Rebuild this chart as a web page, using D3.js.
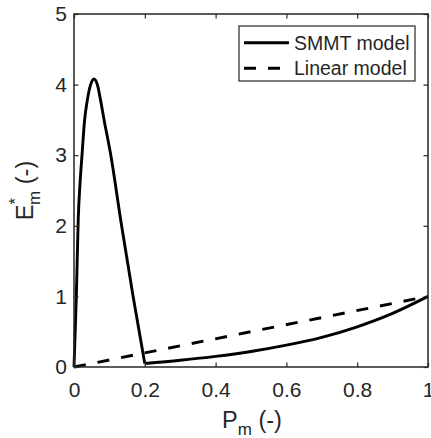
<!DOCTYPE html>
<html>
<head>
<meta charset="utf-8">
<script src="https://cdn.jsdelivr.net/npm/d3@7"></script>
<style>
  html, body { margin: 0; padding: 0; background: #fff; }
  svg { display: block; }
  text { font-family: "Liberation Sans", Arial, Helvetica, sans-serif; fill: #262626; }
</style>
</head>
<body>
<svg id="chart" width="431" height="438"></svg>
<script>
// ---- data ----
const xTicks = [0, 0.2, 0.4, 0.6, 0.8, 1];
const xTickLabels = ["0", "0.2", "0.4", "0.6", "0.8", "1"];
const yTicks = [0, 1, 2, 3, 4, 5];
const yTickLabels = ["0", "1", "2", "3", "4", "5"];

// SMMT model, first branch (0 <= Pm <= 0.2)
const pmLeft   = [0, 0.003, 0.0066, 0.012, 0.017, 0.0226, 0.030, 0.0376, 0.047, 0.0565, 0.066, 0.075, 0.085, 0.104, 0.132, 0.167, 0.2];
const smmtLeft = [0, 0.45, 1.0, 2.1, 2.6, 3.0, 3.5, 3.78, 4.0, 4.08, 4.0, 3.78, 3.5, 3.0, 2.08, 1.0, 0.05];
// SMMT model, second branch (0.2 <= Pm <= 1)
const pmRight   = [0.2, 0.3, 0.4, 0.5, 0.6, 0.7, 0.8, 0.9, 1.0];
const smmtRight = [0.05, 0.095, 0.15, 0.22, 0.31, 0.42, 0.57, 0.76, 1.0];
// Linear model
const pmLinear  = [0, 1];
const linValues = [0, 1];

const legendLabels = ["SMMT model", "Linear model"];

// ---- layout ----
const svg = d3.select("#chart");
const mLeft = 74, mRight = 428, mTop = 14, mBottom = 367;
const x = d3.scaleLinear().domain([0, 1]).range([mLeft, mRight]);
const y = d3.scaleLinear().domain([0, 5]).range([mBottom, mTop]);
const axisColor = "#262626";
const tickLen = 4.5;

// data lines
const line = d3.line().x(d => x(d[0])).y(d => y(d[1]));
const lineSmooth = d3.line().x(d => x(d[0])).y(d => y(d[1])).curve(d3.curveMonotoneX);

svg.append("path")
  .datum(pmLinear.map((p, i) => [p, linValues[i]]))
  .attr("d", line)
  .attr("fill", "none").attr("stroke", "#000").attr("stroke-width", 2.9)
  .attr("stroke-dasharray", "12,12");

svg.append("path")
  .datum(pmLeft.map((p, i) => [p, smmtLeft[i]]))
  .attr("d", lineSmooth)
  .attr("fill", "none").attr("stroke", "#000").attr("stroke-width", 2.9)
  .attr("stroke-linejoin", "round");

svg.append("path")
  .datum(pmRight.map((p, i) => [p, smmtRight[i]]))
  .attr("d", lineSmooth)
  .attr("fill", "none").attr("stroke", "#000").attr("stroke-width", 2.9)
  .attr("stroke-linejoin", "round");

// axes (box with inward ticks)
const xBottom = svg.append("g").attr("transform", `translate(0,${mBottom})`)
  .call(d3.axisBottom(x).tickValues(xTicks).tickFormat((d, i) => xTickLabels[i]).tickSizeInner(-tickLen).tickSizeOuter(0).tickPadding(15));
const xTop = svg.append("g").attr("transform", `translate(0,${mTop})`)
  .call(d3.axisTop(x).tickValues(xTicks).tickFormat("").tickSizeInner(-tickLen).tickSizeOuter(0));
const yLeft = svg.append("g").attr("transform", `translate(${mLeft},0)`)
  .call(d3.axisLeft(y).tickValues(yTicks).tickFormat((d, i) => yTickLabels[i]).tickSizeInner(-tickLen).tickSizeOuter(0).tickPadding(7));
const yRight = svg.append("g").attr("transform", `translate(${mRight},0)`)
  .call(d3.axisRight(y).tickValues(yTicks).tickFormat("").tickSizeInner(-tickLen).tickSizeOuter(0));

[xBottom, xTop, yLeft, yRight].forEach(g => {
  g.select(".domain").remove();
  g.selectAll(".tick line").attr("stroke", axisColor).attr("stroke-width", 1.2);
  g.selectAll(".tick text").attr("font-size", 21).attr("fill", axisColor)
    .style("font-family", '"Liberation Sans", Arial, sans-serif');
});

svg.append("rect")
  .attr("x", mLeft).attr("y", mTop).attr("width", mRight - mLeft).attr("height", mBottom - mTop)
  .attr("fill", "none").attr("stroke", axisColor).attr("stroke-width", 1.5);

// axis labels
const xl = svg.append("text").attr("x", (mLeft + mRight) / 2 + 1).attr("y", 428)
  .attr("text-anchor", "middle").attr("font-size", 23.5);
xl.append("tspan").text("P");
xl.append("tspan").attr("font-size", 17).attr("dy", 7).text("m");
xl.append("tspan").attr("dy", -7).text(" (-)");

const yl = svg.append("text")
  .attr("transform", `translate(33,${(mTop + mBottom) / 2}) rotate(-90)`)
  .attr("text-anchor", "middle").attr("font-size", 23.5);
yl.append("tspan").text("E");
yl.append("tspan").attr("font-size", 17).attr("dy", -12).text("*");
yl.append("tspan").attr("font-size", 17).attr("dx", -7).attr("dy", 19).text("m");
yl.append("tspan").attr("dy", -7).text(" (-)");

// legend
const lg = svg.append("g");
lg.append("rect").attr("x", 239).attr("y", 26).attr("width", 176).attr("height", 55)
  .attr("fill", "#fff").attr("stroke", axisColor).attr("stroke-width", 1.2);
const rowsY = [42.7, 68.3];
const dashes = [null, "12,12"];
legendLabels.forEach((lab, i) => {
  lg.append("line").attr("x1", 244).attr("x2", 289).attr("y1", rowsY[i]).attr("y2", rowsY[i])
    .attr("stroke", "#000").attr("stroke-width", 2.9)
    .attr("stroke-dasharray", dashes[i]);
  lg.append("text").attr("x", 294).attr("y", rowsY[i]).attr("dy", "0.36em")
    .attr("font-size", 19.5).attr("fill", "#000").text(lab);
});
</script>
</body>
</html>
